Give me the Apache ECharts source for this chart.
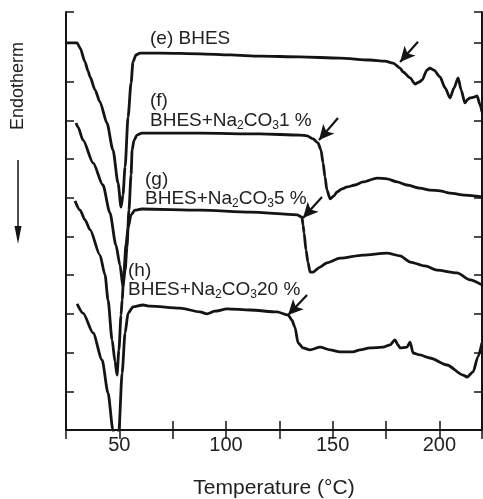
<!DOCTYPE html>
<html><head><meta charset="utf-8">
<script src="https://cdn.jsdelivr.net/npm/echarts@6/dist/echarts.min.js"></script>
<style>html,body{margin:0;padding:0;background:#fff}#c{width:483px;height:499px}</style>
</head><body><div id="c"></div>
<script>
// Temperature (°C) ticks
var xTicks = [50, 100, 150, 200];
// DSC curves: [temperature, signal]
var curveE = [[25.0,10.00],[30.2,10.00],[31.6,9.87],[33.9,9.51],[35.3,9.28],[36.3,9.12],[38.6,8.79],[40.9,8.48],[44.2,7.93],[47.0,7.24],[49.4,6.38],[50.8,5.76],[51.7,6.07],[52.7,6.80],[54.1,8.09],[55.5,8.97],[56.4,9.51],[57.8,9.69],[59.7,9.74],[69.1,9.74],[87.8,9.72],[101.9,9.69],[115.9,9.66],[134.7,9.64],[153.4,9.61],[167.5,9.56],[174.5,9.53],[178.3,9.48],[181.6,9.35],[183.0,9.25],[186.3,9.10],[188.6,8.94],[190.5,8.99],[191.9,9.04],[194.2,9.30],[195.6,9.35],[197.5,9.30],[200.3,9.12],[202.7,8.84],[205.0,8.58],[206.9,8.84],[208.8,9.10],[210.2,8.79],[212.0,8.45],[213.4,8.55],[214.4,8.58],[216.3,8.60],[217.7,8.63],[219.1,8.40],[220.0,8.22]];
var curveF = [[29.7,7.93],[30.6,7.83],[33.0,7.49],[37.7,6.90],[42.3,6.33],[45.6,5.61],[48.4,4.78],[50.3,4.26],[51.7,3.70],[52.7,4.13],[53.6,4.73],[54.5,5.68],[55.5,6.59],[56.0,7.24],[56.9,7.49],[58.3,7.62],[60.6,7.67],[87.8,7.67],[115.9,7.65],[134.7,7.62],[138.0,7.60],[140.8,7.52],[143.1,7.42],[144.5,7.24],[145.5,6.90],[146.4,6.54],[147.3,6.20],[148.8,5.97],[150.6,6.05],[152.0,6.15],[154.4,6.23],[156.7,6.28],[160.5,6.33],[164.2,6.41],[170.8,6.51],[175.5,6.49],[180.2,6.41],[184.8,6.33],[190.9,6.25],[195.6,6.20],[200.3,6.18],[205.0,6.12],[212.0,6.07],[220.0,6.02]];
var curveG = [[29.2,5.92],[31.6,5.68],[33.9,5.43],[36.3,5.17],[40.9,4.52],[43.3,4.01],[44.7,3.36],[46.6,2.33],[48.0,1.76],[48.9,1.42],[49.8,2.07],[50.8,2.97],[51.3,3.36],[52.2,4.13],[53.1,4.78],[54.1,5.22],[55.5,5.56],[57.3,5.68],[60.6,5.71],[87.8,5.68],[111.3,5.63],[133.3,5.56],[135.6,5.50],[136.1,5.30],[136.6,5.09],[137.5,4.65],[138.4,4.34],[139.4,4.08],[140.8,4.08],[144.1,4.21],[147.3,4.32],[153.4,4.44],[164.2,4.52],[175.5,4.57],[181.6,4.50],[186.3,4.34],[193.3,4.24],[198.9,4.13],[208.3,4.06],[214.4,3.88],[220.0,3.75]];
var curveH = [[30.2,3.26],[33.0,3.02],[37.7,2.51],[41.9,1.81],[44.7,0.96],[47.0,0.00],[48.4,-0.39],[49.8,0.00],[51.3,1.47],[52.7,2.51],[54.1,3.02],[56.4,3.18],[61.1,3.23],[64.4,3.20],[78.4,3.15],[87.8,3.05],[91.1,3.00],[94.8,3.07],[100.5,3.13],[111.3,3.10],[123.9,3.05],[129.1,2.97],[130.9,2.84],[132.3,2.66],[133.8,2.25],[136.1,2.12],[139.4,2.07],[144.1,2.14],[148.8,2.07],[153.4,2.02],[159.5,2.02],[162.8,2.07],[167.5,2.12],[173.6,2.14],[176.9,2.20],[179.2,2.33],[180.6,2.20],[181.6,2.12],[184.8,2.14],[186.3,2.27],[187.7,1.99],[190.9,1.94],[195.6,1.86],[203.6,1.68],[211.1,1.42],[213.0,1.37],[215.8,1.50],[218.1,1.89],[220.0,2.25]];
// Arrows: [fromX, fromY, toX, toY]
var arrows = [[190.0,10.03,181.6,9.51],[152.5,8.06,143.6,7.49],[145.0,6.02,136.1,5.48],[138.0,3.49,129.1,2.97]];
// Curve labels
var labelTags = ['(e)', '(f)', '(g)', '(h)'];
var labelPct = ['1 %', '5 %', '20 %'];

var FONT = 'Liberation Sans, Arial, Helvetica, sans-serif';
var INK = '#141414';
var chart = echarts.init(document.getElementById('c'), null, {renderer: 'canvas'});

function lineSeries(d) {
  return {type: 'line', data: d, showSymbol: false, symbol: 'none', clip: true,
    smooth: 0.25, smoothMonotone: 'x',
    lineStyle: {width: 2.8, color: INK}, silent: true, animation: false};
}
var sE = lineSeries(curveE);
sE.markLine = {
  silent: true, animation: false, symbol: ['none', 'arrow'], symbolSize: [11, 15],
  label: {show: false},
  lineStyle: {type: 'solid', width: 2.2, color: INK},
  data: arrows.map(function (a) { return [{coord: [a[0], a[1]]}, {coord: [a[2], a[3]]}]; })
};

var axisCommon = {
  type: 'value', min: 25, max: 220, interval: 25,
  axisLine: {show: true, lineStyle: {color: INK, width: 2}},
  axisTick: {show: true, inside: true, length: 9, lineStyle: {color: INK, width: 1.5}},
  splitLine: {show: false}
};
var yCommon = {
  type: 'value', min: 0, max: 10.8, interval: 1,
  axisLine: {show: true, lineStyle: {color: INK, width: 2}},
  axisTick: {show: true, inside: true, length: 8, lineStyle: {color: INK, width: 1.5}},
  axisLabel: {show: false}, splitLine: {show: false}
};

function richLabel(pct) {
  return '{n|BHES+Na}{s|2}{n|CO}{s|3}{n|' + pct + '}';
}
var rich = {
  n: {fontSize: 19, fontFamily: FONT, fill: '#222', lineHeight: 22},
  s: {fontSize: 12, fontFamily: FONT, fill: '#222', lineHeight: 12, verticalAlign: 'bottom'}
};
function txt(x, y, t, size) {
  return {type: 'text', x: x, y: y, silent: true,
    style: {text: t, fontSize: size || 19, fontFamily: FONT, fill: '#222', verticalAlign: 'middle', align: 'left'}};
}
function rtxt(x, y, t) {
  return {type: 'text', x: x, y: y, silent: true,
    style: {text: t, rich: rich, fontSize: 19, fontFamily: FONT, fill: '#222', verticalAlign: 'middle', align: 'left'}};
}

chart.setOption({
  animation: false,
  backgroundColor: '#fff',
  grid: {left: 66, right: 1, top: 12, bottom: 69, containLabel: false, outerBoundsMode: 'none'},
  xAxis: [
    Object.assign({}, axisCommon, {
      position: 'bottom',
      name: 'Temperature (\u00b0C)', nameLocation: 'middle', nameGap: 48,
      nameTextStyle: {fontSize: 21, fontFamily: FONT, color: '#222'},
      axisLabel: {show: true, fontSize: 20, fontFamily: FONT, color: '#222', margin: 5,
        formatter: function (v) { return xTicks.indexOf(v) >= 0 ? String(v) : ''; }}
    }),
    Object.assign({}, axisCommon, {position: 'top', axisLabel: {show: false}})
  ],
  yAxis: [
    Object.assign({}, yCommon, {position: 'left'}),
    Object.assign({}, yCommon, {position: 'right'})
  ],
  series: [sE, lineSeries(curveF), lineSeries(curveG), lineSeries(curveH)],
  graphic: [
    txt(150, 38.5, labelTags[0] + ' BHES'),
    txt(150, 101, labelTags[1]),
    rtxt(150, 121, richLabel(labelPct[0])),
    txt(145, 180, labelTags[2]),
    rtxt(145, 198.5, richLabel(labelPct[1])),
    txt(128, 271, labelTags[3]),
    rtxt(128, 290, richLabel(labelPct[2])),
    {type: 'text', x: 18, y: 86, rotation: Math.PI / 2, silent: true,
      style: {text: 'Endotherm', fontSize: 18, fontFamily: FONT, fill: '#222', align: 'center', verticalAlign: 'middle'}},
    {type: 'line', silent: true, shape: {x1: 18, y1: 160, x2: 18, y2: 232}, style: {stroke: INK, lineWidth: 1.5}},
    {type: 'polygon', silent: true, shape: {points: [[14.5, 226], [21.5, 226], [18, 244]]}, style: {fill: INK}}
  ]
});
</script></body></html>
